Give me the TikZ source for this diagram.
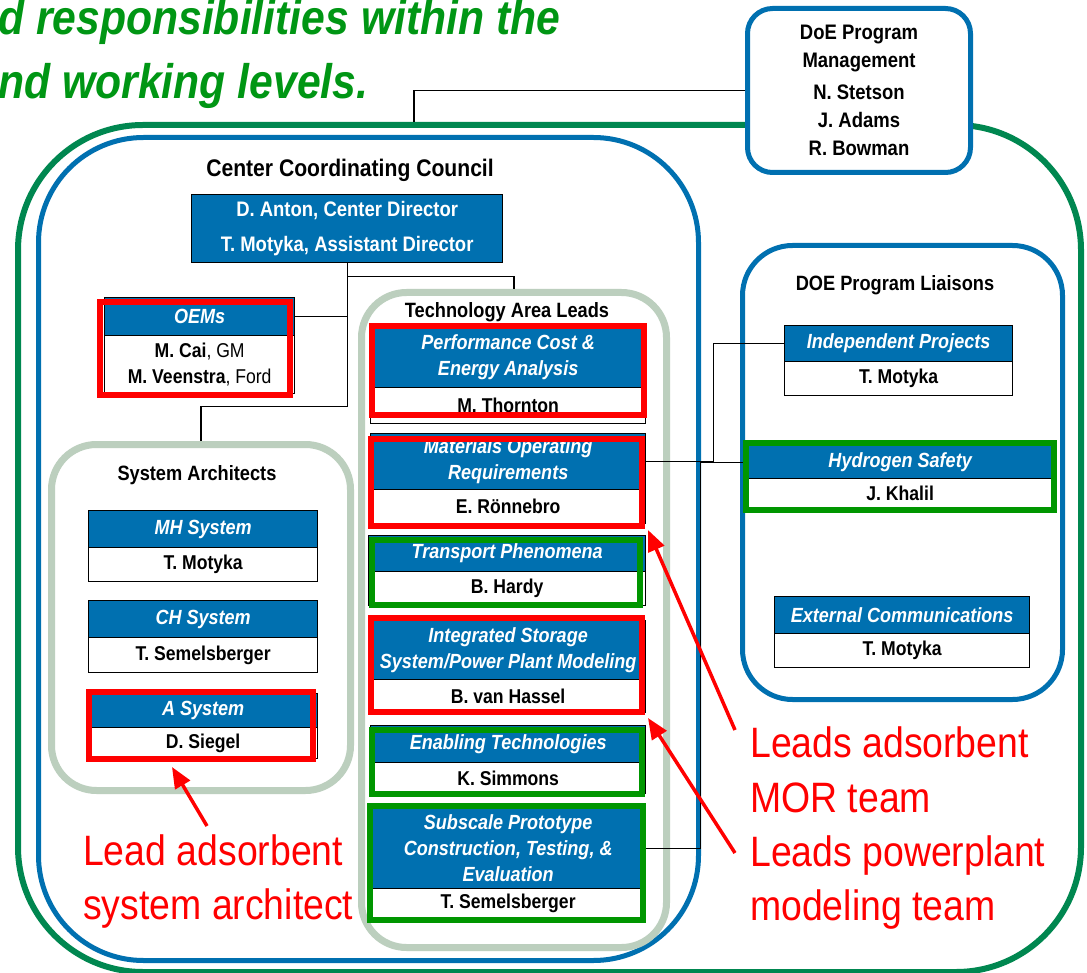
\documentclass[tikz,border=0pt]{standalone}
\usepackage{fontspec}
\setmainfont{Liberation Sans}
\newfontfamily\narrow[FakeStretch=0.88]{Liberation Sans}
\usetikzlibrary{arrows.meta,calc}

\definecolor{hdrblue}{RGB}{0,112,176}
\definecolor{linkblue}{RGB}{0,112,176}
\definecolor{outergreen}{RGB}{0,135,80}
\definecolor{leafgreen}{RGB}{0,150,0}
\definecolor{sage}{RGB}{188,207,190}
\definecolor{hired}{RGB}{255,0,0}
\definecolor{titlegreen}{RGB}{0,150,20}

% org box: name, x-left, x-right, top, header bottom, bottom, header text, body text
\newcommand\orgbox[8]{%
  \node[hdr, minimum width=#3-#2, minimum height=#5-#4] (#1h) at (#2,#4) {#7};
  \node[bodybox, minimum width=#3-#2, minimum height=#6-#5] (#1b) at (#2,#5) {#8};
}

\begin{document}
\begin{tikzpicture}[x=1pt,y=-1pt,
  conn/.style={draw=black,line width=1.3pt},
  hdr/.style={draw=black,line width=1.3pt,fill=hdrblue,text=white,inner sep=0pt,
    anchor=north west,align=center,font=\narrow\bfseries\itshape\fontsize{20.5}{26}\selectfont},
  bodybox/.style={draw=black,line width=1.3pt,fill=white,text=black,inner sep=0pt,
    anchor=north west,align=center,font=\narrow\bfseries\fontsize{20}{26}\selectfont},
  grouptitle/.style={font=\narrow\bfseries\fontsize{20.7}{24}\selectfont,inner sep=0pt},
  sagegroup/.style={draw=sage,line width=7pt,rounded corners=45pt,fill=white,anchor=north west,inner sep=0pt},
  bluegroup/.style={draw=linkblue,line width=5pt,fill=white,anchor=north west,inner sep=0pt},
  redframe/.style={draw=hired,line width=5.5pt},
  greenframe/.style={draw=leafgreen,line width=5.5pt},
  note/.style={text=hired,font=\narrow\fontsize{42.5}{54}\selectfont,anchor=base west,inner sep=0pt},
  headline/.style={text=titlegreen,font=\narrow\bfseries\itshape\fontsize{48.5}{60}\selectfont,anchor=base west,inner sep=0pt},
  pointer/.style={draw=hired,line width=3.5pt,-{Triangle[length=21pt,width=17pt]}},
]
\useasboundingbox (0,0) rectangle (1087,973);
\clip (0,0) rectangle (1087,973);

% headline
\node[headline] (head1) at (-2,35) {d responsibilities within the};
\node[headline] (head2) at (-2,99) {nd working levels.};

% nested groups
\node[draw=outergreen,line width=6pt,rounded corners=125pt,anchor=north west,inner sep=0pt,
      minimum width=1063,minimum height=847] (center) at (15,122) {};
\node[bluegroup,rounded corners=105pt,minimum width=660,minimum height=823] (council) at (36,135) {};
\node[bluegroup,rounded corners=50pt,minimum width=320,minimum height=454] (liaisons) at (740,243) {};
\node[sagegroup,minimum width=299,minimum height=346] (sacont) at (48,441) {};
\node[sagegroup,minimum width=305,minimum height=655] (tacont) at (358,289) {};

% program management
\coordinate (gtop) at (414,122);
\node[bluegroup,rounded corners=25pt,minimum width=223,minimum height=164] (doe) at (745,6) {};
\node[font=\narrow\bfseries\fontsize{21}{28}\selectfont,align=center,inner sep=0pt] (doetxt) at (doe.center)
  {DoE Program\\Management\\[4pt]N. Stetson\\J. Adams\\R. Bowman};
\draw[conn] (doe.west) -| (gtop);

% group titles
\node[grouptitle,font=\narrow\bfseries\fontsize{24}{28}\selectfont] (cccT) at (350,170) {Center Coordinating Council};
\node[grouptitle] (talT) at (507,312) {Technology Area Leads};
\node[grouptitle] (saT) at (197,475) {System Architects};
\node[grouptitle] (dplT) at (895,285) {DOE Program Liaisons};

% directors
\node[fill=hdrblue,draw=black,line width=1.3pt,text=white,align=center,inner sep=0pt,
      font=\narrow\bfseries\fontsize{21}{35}\selectfont,anchor=north west,
      minimum width=311,minimum height=68] (dir) at (191,194)
  {D. Anton, Center Director\\T. Motyka, Assistant Director};

% boxes
\orgbox{oems}{104}{294}{297}{335}{393}{OEMs}{M. Cai{\mdseries, GM}\\M. Veenstra{\mdseries, Ford}}
\orgbox{mh}{88}{317}{510}{547}{581}{MH System}{T. Motyka}
\orgbox{ch}{88}{317}{600}{637}{672}{CH System}{T. Semelsberger}
\orgbox{as}{88}{317}{693}{727}{758}{A System}{D. Siegel}

\orgbox{perf}{370}{645}{327}{387}{423}{Performance Cost \&\\Energy Analysis}{M. Thornton}
\orgbox{mat}{370}{645}{433}{489}{523}{Materials Operating\\Requirements}{E. Rönnebro}
\orgbox{trn}{368}{645}{535}{571}{605}{Transport Phenomena}{B. Hardy}
\orgbox{isp}{370}{645}{620}{679}{712}{Integrated Storage\\System/Power Plant Modeling}{B. van Hassel}
\orgbox{ena}{370}{645}{725}{762}{793}{Enabling Technologies}{K. Simmons}
\orgbox{sub}{370}{645}{808}{888}{918}{Subscale Prototype\\Construction, Testing, \&\\Evaluation}{T. Semelsberger}

\orgbox{ind}{784}{1012}{325}{361}{395}{Independent Projects}{T. Motyka}
\orgbox{hyd}{748}{1051}{445}{478}{508}{Hydrogen Safety}{J. Khalil}
\orgbox{ext}{774}{1029}{596}{633}{667}{External Communications}{T. Motyka}

% reporting lines
\draw[conn] (dir.south) -- ($(dir.south)+(0,143)$) -| (sacont.north);
\draw[conn] ($(dir.south)+(0,13)$) -| (tacont.north);
\draw[conn] (dir.south |- oemsh.east) -- (oemsh.east);
\draw[conn] (math.east) -- ++(67,0) |- (indh.west);
\draw[conn] (subh.east) -- ++(54,0) |- (hydh.west);

% highlight frames
\draw[redframe] (100,302) rectangle (290,395);
\draw[redframe] (89,692) rectangle (313,759);
\draw[redframe] (372,326) rectangle (644,415);
\draw[redframe] (371,439) rectangle (642,526);
\draw[greenframe] (372,540) rectangle (640,605);
\draw[redframe] (371,618) rectangle (642,712);
\draw[greenframe] (372,730) rectangle (642,794);
\draw[greenframe] (370,806) rectangle (643,920);
\draw[greenframe] (746,443) rectangle (1054,510);

% annotations
\node[note] (n1a) at (83,865) {Lead adsorbent};
\node[note] (n1b) at (83,919) {system architect};
\node[note] (n2a) at (750,757) {Leads adsorbent};
\node[note] (n2b) at (750,812) {MOR team};
\node[note] (n3a) at (750,866) {Leads powerplant};
\node[note] (n3b) at (750,920) {modeling team};

\coordinate (p1tail) at (207,826);
\coordinate (p1tip) at (172,767);
\coordinate (p2tail) at (735,730);
\coordinate (p2tip) at (648,530);
\coordinate (p3tail) at (735,853);
\coordinate (p3tip) at (648,718);
\draw[pointer] (p1tail) -- (p1tip);
\draw[pointer] (p2tail) -- (p2tip);
\draw[pointer] (p3tail) -- (p3tip);
\end{tikzpicture}
\end{document}
